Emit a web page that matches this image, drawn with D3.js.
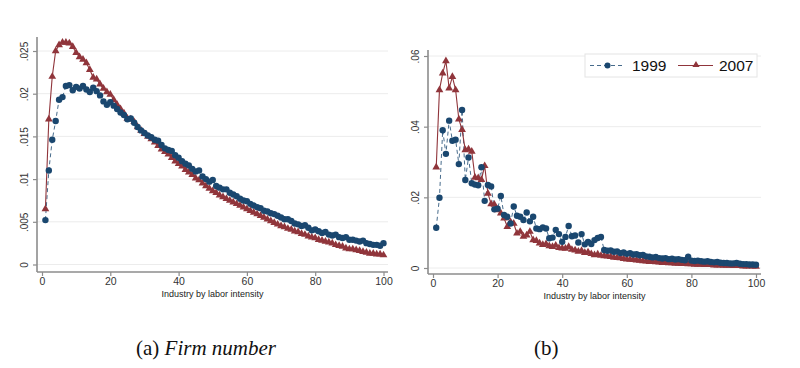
<!DOCTYPE html>
<html><head><meta charset="utf-8">
<script src="https://cdn.jsdelivr.net/npm/d3@7"></script>
<style>body{margin:0;background:#fff}svg{display:block}</style>
</head><body>
<svg id="c" width="800" height="368"></svg>
<script>
const industry = d3.range(1, 101);
const leftY1999 = [.0052,.0110,.0146,.0168,.0193,.0196,.0209,.0210,.0204,.0208,
.0206,.0209,.0205,.0202,.0207,.0203,.0198,.0191,.0187,.0190,
.0186,.0182,.0178,.0175,.0170,.0171,.0166,.0161,.0157,.0154,
.0151,.0149,.0146,.0145,.0140,.0136,.0134,.0133,.0128,.0125,
.0121,.0118,.0116,.0112,.0109,.0110,.0103,.0100,.0097,.0099,
.0092,.0090,.0088,.0088,.0084,.0082,.0080,.0077,.0075,.0074,
.0071,.0069,.0067,.0066,.0063,.0062,.0060,.0059,.0057,.0055,
.0053,.0053,.0051,.0048,.0047,.0045,.0046,.0043,.0040,.0041,
.0039,.0037,.0038,.0035,.0034,.0035,.0032,.0031,.0032,.0029,
.0029,.0028,.0027,.0028,.0025,.0024,.0023,.0023,.0022,.0025];
const leftY2007 = [.0065,.0170,.0220,.0250,.0257,.0260,.0260,.0259,.0255,.0248,
.0243,.0240,.0236,.0228,.0219,.0217,.0211,.0206,.0202,.0199,
.0193,.0187,.0182,.0177,.0171,.0170,.0167,.0161,.0157,.0153,
.0150,.0147,.0143,.0139,.0135,.0132,.0129,.0125,.0121,.0118,
.0115,.0111,.0108,.0105,.0101,.0099,.0095,.0092,.0089,.0086,
.0084,.0081,.0079,.0077,.0075,.0073,.0071,.0069,.0067,.0065,
.0063,.0061,.0059,.0057,.0055,.0053,.0051,.0049,.0047,.0045,
.0044,.0042,.0041,.0039,.0038,.0036,.0035,.0033,.0032,.0031,
.0029,.0028,.0027,.0026,.0025,.0023,.0022,.0021,.0019,.0018,
.0018,.0017,.0016,.0015,.0014,.0013,.0013,.0012,.0012,.0011];
const rightY1999 = [.0114,.0199,.0390,.0323,.0417,.0360,.0363,.0294,.0447,.0249,
.0313,.0240,.0236,.0234,.0285,.0190,.0235,.0231,.0166,.0168,
.0204,.0150,.0145,.0126,.0174,.0148,.0145,.0136,.0157,.0132,
.0145,.0112,.0110,.0115,.0112,.0084,.0086,.0108,.0096,.0074,
.0088,.0119,.0090,.0092,.0072,.0096,.0067,.0074,.0068,.0079,
.0085,.0088,.0051,.0049,.0050,.0046,.0047,.0042,.0044,.0040,
.0042,.0038,.0039,.0036,.0037,.0033,.0032,.0030,.0031,.0028,
.0027,.0028,.0025,.0026,.0024,.0025,.0023,.0022,.0032,.0021,
.0020,.0021,.0019,.0018,.0019,.0017,.0016,.0017,.0015,.0014,
.0014,.0013,.0013,.0014,.0012,.0011,.0011,.0010,.0010,.0009];
const rightY2007 = [.0285,.0504,.0551,.0586,.0509,.0541,.0504,.0421,.0391,.0334,
.0336,.0330,.0256,.0255,.0250,.0289,.0211,.0181,.0180,.0164,
.0155,.0141,.0117,.0130,.0126,.0098,.0103,.0089,.0093,.0103,
.0079,.0077,.0070,.0066,.0068,.0062,.0060,.0064,.0057,.0056,
.0055,.0060,.0052,.0050,.0047,.0049,.0043,.0045,.0040,.0037,
.0039,.0035,.0034,.0033,.0032,.0030,.0029,.0028,.0026,.0025,
.0024,.0023,.0022,.0021,.0020,.0019,.0018,.0018,.0017,.0016,
.0015,.0015,.0014,.0014,.0013,.0013,.0012,.0012,.0011,.0011,
.0010,.0010,.0010,.0009,.0009,.0009,.0008,.0008,.0008,.0007,
.0007,.0007,.0006,.0006,.0006,.0005,.0005,.0005,.0005,.0004];
const xTicks = [0,20,40,60,80,100];
const leftYTicks = [0,.005,.01,.015,.02,.025];
const rightYTicks = [0,.02,.04,.06];
const seriesNames = ["1999","2007"];
const xTitle = "Industry by labor intensity";
const captions = ["(a) ", "Firm number", "(b)"];

const BLUE = "#1a476f", RED = "#90353b", AX = "#8c8c8c";
const svg = d3.select("#c");

function fmt(v){ if(v===0) return "0"; return d3.format(".3~f")(v).replace(/^0/,""); }

function panel(cfg){
  const g = svg.append("g");
  const x = d3.scaleLinear().domain([0,100]).range([cfg.x0, cfg.x100]);
  const y = d3.scaleLinear().domain([0, cfg.yTop]).range([cfg.y0, cfg.yTopPx]);
  g.selectAll(".grid").data(cfg.yTicks).enter().append("line")
    .attr("x1", cfg.left).attr("x2", cfg.right)
    .attr("y1", d=>y(d)).attr("y2", d=>y(d))
    .attr("stroke", "#ececec").attr("stroke-width", 1);
  const ya = g.append("g").attr("transform", `translate(${cfg.left},0)`)
    .call(d3.axisLeft(y).tickValues(cfg.yTicks).tickFormat(fmt).tickSize(4).tickPadding(4));
  ya.select(".domain").remove();
  ya.append("line").attr("x1",0).attr("x2",0).attr("y1",cfg.top).attr("y2",cfg.bottom)
    .attr("stroke",AX).attr("stroke-width",1.6);
  ya.selectAll(".tick line").attr("stroke",AX).attr("stroke-width",1.2);
  ya.selectAll(".tick text").attr("transform","rotate(-90)")
    .attr("x",0).attr("dy",0).attr("y",-9).attr("text-anchor","middle")
    .attr("font-family","Liberation Sans, Arial, sans-serif").attr("font-size",10).attr("fill","#333");
  const xa = g.append("g").attr("transform", `translate(0,${cfg.bottom})`)
    .call(d3.axisBottom(x).tickValues(xTicks).tickFormat(d3.format("d")).tickSize(4).tickPadding(2));
  xa.select(".domain").remove();
  xa.append("line").attr("x1",cfg.left).attr("x2",cfg.right).attr("y1",0).attr("y2",0)
    .attr("stroke",AX).attr("stroke-width",1.6);
  xa.selectAll(".tick line").attr("stroke",AX).attr("stroke-width",1.2);
  xa.selectAll(".tick text").attr("font-family","Liberation Sans, Arial, sans-serif")
    .attr("font-size",10.5).attr("fill","#333");
  g.append("text").attr("x",(cfg.left+cfg.right)/2).attr("y",cfg.bottom+25)
    .attr("text-anchor","middle").attr("font-family","Liberation Sans, Arial, sans-serif")
    .attr("font-size",9).attr("fill","#222").text(xTitle);
  const line = d3.line().x((d,i)=>x(industry[i])).y(d=>y(d));
  g.append("path").datum(cfg.b).attr("d",line).attr("fill","none")
    .attr("stroke",BLUE).attr("stroke-width",1).attr("stroke-dasharray","4,3").attr("opacity",0.8);
  g.append("path").datum(cfg.r).attr("d",line).attr("fill","none")
    .attr("stroke",RED).attr("stroke-width",1.1);
  const tri = d3.symbol().type(d3.symbolTriangle).size(26);
  g.selectAll(".r").data(cfg.r).enter().append("path")
    .attr("d",tri).attr("transform",(d,i)=>`translate(${x(industry[i])},${y(d)})`)
    .attr("fill",RED);
  g.selectAll(".b").data(cfg.b).enter().append("circle")
    .attr("cx",(d,i)=>x(industry[i])).attr("cy",d=>y(d)).attr("r",3.2)
    .attr("fill",BLUE);
  return g;
}

panel({x0:42, x100:383.5, left:37, right:388, top:37, bottom:272,
  y0:264.5, yTopPx:51, yTop:.025, yTicks:leftYTicks, b:leftY1999, r:leftY2007});
panel({x0:433, x100:756, left:428, right:761, top:50, bottom:274,
  y0:268, yTopPx:56, yTop:.06, yTicks:rightYTicks, b:rightY1999, r:rightY2007});

const lg = svg.append("g");
lg.append("rect").attr("x",585).attr("y",54).attr("width",172).attr("height",23)
  .attr("fill","#fff").attr("stroke","#e4e4e4").attr("stroke-width",1);
lg.append("line").attr("x1",590).attr("x2",625).attr("y1",65.5).attr("y2",65.5)
  .attr("stroke",BLUE).attr("stroke-width",1).attr("stroke-dasharray","4,3").attr("opacity",0.8);
lg.append("circle").attr("cx",607.5).attr("cy",65.5).attr("r",3).attr("fill",BLUE);
lg.append("text").attr("x",632).attr("y",71).attr("font-family","Liberation Sans, Arial, sans-serif")
  .attr("font-size",15.5).attr("fill","#111").text(seriesNames[0]);
lg.append("line").attr("x1",678).attr("x2",713).attr("y1",65.5).attr("y2",65.5)
  .attr("stroke",RED).attr("stroke-width",1.1);
lg.append("path").attr("d",d3.symbol().type(d3.symbolTriangle).size(22))
  .attr("transform","translate(696,65)").attr("fill",RED);
lg.append("text").attr("x",719).attr("y",71).attr("font-family","Liberation Sans, Arial, sans-serif")
  .attr("font-size",15.5).attr("fill","#111").text(seriesNames[1]);

const cap = svg.append("text").attr("x",136).attr("y",355)
  .attr("font-family","Liberation Serif, Times New Roman, serif").attr("font-size",21).attr("fill","#111");
cap.append("tspan").text(captions[0]);
cap.append("tspan").attr("font-style","italic").text(captions[1]);
svg.append("text").attr("x",534).attr("y",355)
  .attr("font-family","Liberation Serif, Times New Roman, serif").attr("font-size",21).attr("fill","#111")
  .text(captions[2]);
</script>
</body></html>
